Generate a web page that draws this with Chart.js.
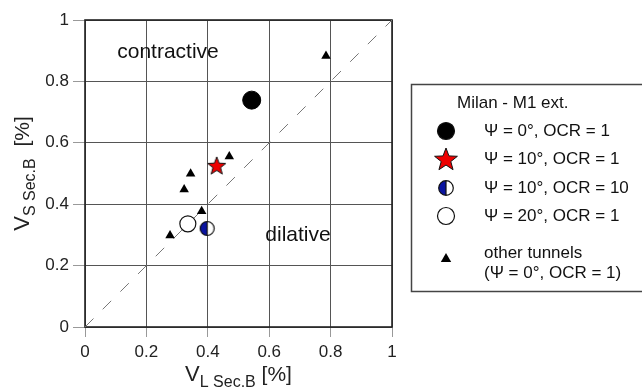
<!DOCTYPE html>
<html>
<head>
<meta charset="utf-8">
<script src="https://cdn.jsdelivr.net/npm/chart.js@4.4.0/dist/chart.umd.min.js"></script>
<style>
  html, body { margin: 0; padding: 0; background: #fff; }
  #wrap { width: 642px; height: 388px; }
</style>
</head>
<body>
<div id="wrap"><canvas id="myChart" width="642" height="388"></canvas></div>
<script>
// data (V_L, V_S in %)
const psi0Ocr1 = [{ x: 0.543, y: 0.739 }];
const psi10Ocr1 = [{ x: 0.429, y: 0.525 }];
const psi10Ocr10 = [{ x: 0.398, y: 0.321 }];
const psi20Ocr1 = [{ x: 0.335, y: 0.336 }];
const otherX = [0.785, 0.470, 0.344, 0.323, 0.380, 0.277];
const otherY = [0.883, 0.555, 0.499, 0.448, 0.377, 0.298];
const tickValues = [0, 0.2, 0.4, 0.6, 0.8, 1];
const legendTitle = 'Milan - M1 ext.';
const legendLabels = ['Ψ = 0°, OCR = 1', 'Ψ = 10°, OCR = 1', 'Ψ = 10°, OCR = 10', 'Ψ = 20°, OCR = 1'];
const otherLabel = ['other tunnels', '(Ψ = 0°, OCR = 1)'];

const FONT = "'Liberation Sans', Arial, sans-serif";

function drawStar(c, x, y, R) {
  const r = R * 0.42;
  c.beginPath();
  for (let i = 0; i < 10; i++) {
    const a = -Math.PI / 2 + i * Math.PI / 5;
    const rr = i % 2 ? r : R;
    c.lineTo(x + rr * Math.cos(a), y + rr * Math.sin(a));
  }
  c.closePath();
  c.fillStyle = '#ee0000';
  c.fill();
  c.lineWidth = 1;
  c.strokeStyle = '#111';
  c.stroke();
}

function drawHalf(c, x, y, r) {
  c.beginPath();
  c.arc(x, y, r, 0, Math.PI * 2);
  c.fillStyle = '#fff';
  c.fill();
  c.beginPath();
  c.arc(x, y, r, Math.PI / 2, Math.PI * 1.5);
  c.closePath();
  c.fillStyle = '#0a14a0';
  c.fill();
  c.beginPath();
  c.arc(x, y, r, 0, Math.PI * 2);
  c.moveTo(x, y - r);
  c.lineTo(x, y + r);
  c.lineWidth = 1.2;
  c.strokeStyle = '#111';
  c.stroke();
}

function drawCircle(c, x, y, r, fill) {
  c.beginPath();
  c.arc(x, y, r, 0, Math.PI * 2);
  c.fillStyle = fill;
  c.fill();
  c.lineWidth = 1.2;
  c.strokeStyle = '#111';
  c.stroke();
}

function drawTri(c, x, y, r) {
  c.beginPath();
  for (let i = 0; i < 3; i++) {
    const a = -Math.PI / 2 + i * 2 * Math.PI / 3;
    c.lineTo(x + r * Math.cos(a), y + r * Math.sin(a));
  }
  c.closePath();
  c.fillStyle = '#000';
  c.fill();
}

function markerCanvas(size, fn) {
  const cv = document.createElement('canvas');
  cv.width = size; cv.height = size;
  fn(cv.getContext('2d'), size / 2, size / 2);
  return cv;
}

const starImg = markerCanvas(22, (c, x, y) => drawStar(c, x, y + 0.5, 9.5));
const halfImg = markerCanvas(17, (c, x, y) => drawHalf(c, x, y, 7));

// text with a subscript, centred on (0,0) of the current transform
function drawSubText(c, parts) {
  let w = 0;
  parts.forEach(p => { c.font = p.size + 'px ' + FONT; p.w = c.measureText(p.t).width; w += p.w; });
  let x = -w / 2;
  c.textAlign = 'left';
  c.textBaseline = 'alphabetic';
  c.fillStyle = '#222';
  parts.forEach(p => { c.font = p.size + 'px ' + FONT; c.fillText(p.t, x, p.dy); x += p.w; });
}

const decor = {
  id: 'decor',
  beforeDatasetsDraw(chart) {
    const c = chart.ctx, a = chart.chartArea;
    c.save();
    c.strokeStyle = '#222';
    c.lineWidth = 1.6;
    c.strokeRect(a.left, a.top, a.right - a.left, a.bottom - a.top);
    c.fillStyle = '#111';
    c.font = '21px ' + FONT;
    c.textAlign = 'center';
    c.textBaseline = 'middle';
    c.fillText('contractive', 168, 52);
    c.fillText('dilative', 298, 235);
    c.restore();
  },
  afterDraw(chart) {
    const c = chart.ctx, a = chart.chartArea;
    c.save();
    // axis titles
    c.save();
    c.translate((a.left + a.right) / 2, 381);
    drawSubText(c, [{ t: 'V', size: 22, dy: 0 }, { t: 'L Sec.B', size: 16, dy: 6 }, { t: ' [%]', size: 21, dy: 0 }]);
    c.restore();
    c.save();
    c.translate(29, (a.top + a.bottom) / 2);
    c.rotate(-Math.PI / 2);
    drawSubText(c, [{ t: 'V', size: 22, dy: 0 }, { t: 'S Sec.B', size: 16, dy: 6 }, { t: '  [%]', size: 21, dy: 0 }]);
    c.restore();

    // legend box
    c.strokeStyle = '#444';
    c.lineWidth = 1.5;
    c.strokeRect(411.5, 84.5, 240, 207);
    c.fillStyle = '#111';
    c.font = '17px ' + FONT;
    c.textAlign = 'left';
    c.textBaseline = 'middle';
    c.fillText(legendTitle, 457, 103);
    const rows = [131, 159, 188, 216];
    drawCircle(c, 446, rows[0], 8.5, '#000');
    drawStar(c, 446, rows[1] + 1, 12);
    drawHalf(c, 446, rows[2], 7.3);
    drawCircle(c, 446, rows[3], 8.5, '#fff');
    c.fillStyle = '#111';
    legendLabels.forEach((t, i) => c.fillText(t, 484, rows[i]));
    drawTri(c, 446, 259, 6);
    c.fillStyle = '#111';
    c.fillText(otherLabel[0], 484, 253);
    c.fillText(otherLabel[1], 484, 273);
    c.restore();
  }
};

const ctx = document.getElementById('myChart');

new Chart(ctx, {
  type: 'scatter',
  data: {
    datasets: [
      {
        label: 'other tunnels',
        data: otherX.map((x, i) => ({ x: x, y: otherY[i] })),
        pointStyle: 'triangle',
        pointRadius: 5.5,
        backgroundColor: '#000',
        borderColor: '#000',
        borderWidth: 0,
        order: 5
      },
      {
        label: legendLabels[3],
        data: psi20Ocr1,
        pointStyle: 'circle',
        pointRadius: 8,
        backgroundColor: '#fff',
        borderColor: '#111',
        borderWidth: 1.2,
        order: 4
      },
      {
        label: legendLabels[2],
        data: psi10Ocr10,
        pointStyle: halfImg,
        order: 3
      },
      {
        label: legendLabels[1],
        data: psi10Ocr1,
        pointStyle: starImg,
        order: 2
      },
      {
        label: legendLabels[0],
        data: psi0Ocr1,
        pointStyle: 'circle',
        pointRadius: 9,
        backgroundColor: '#000',
        borderColor: '#000',
        borderWidth: 1,
        order: 1
      },
      {
        type: 'line',
        label: '1:1',
        data: [{ x: 0, y: 0 }, { x: 1, y: 1 }],
        borderColor: '#777',
        borderWidth: 1,
        borderDash: [12, 13],
        pointRadius: 0,
        fill: false,
        order: 10
      }
    ]
  },
  options: {
    responsive: false,
    animation: false,
    layout: { padding: { left: 0, top: 20, right: 250, bottom: 0 } },
    plugins: {
      legend: { display: false },
      tooltip: { enabled: false }
    },
    scales: {
      x: {
        type: 'linear',
        min: 0,
        max: 1,
        afterBuildTicks: s => { s.ticks = tickValues.map(v => ({ value: v })); },
        afterFit: s => { s.height = 61; },
        ticks: {
          color: '#222',
          font: { family: FONT, size: 17 },
          padding: 5,
          maxRotation: 0,
          callback: v => String(v)
        },
        grid: { color: '#555', lineWidth: 1, tickLength: 10, tickColor: '#999' },
        border: { display: false }
      },
      y: {
        type: 'linear',
        min: 0,
        max: 1,
        afterBuildTicks: s => { s.ticks = tickValues.map(v => ({ value: v })); },
        afterFit: s => { s.width = 85; },
        ticks: {
          color: '#222',
          font: { family: FONT, size: 17 },
          padding: 4,
          callback: v => String(v)
        },
        grid: { color: '#555', lineWidth: 1, tickLength: 12, tickColor: '#999' },
        border: { display: false }
      }
    }
  },
  plugins: [decor]
});
</script>
</body>
</html>
